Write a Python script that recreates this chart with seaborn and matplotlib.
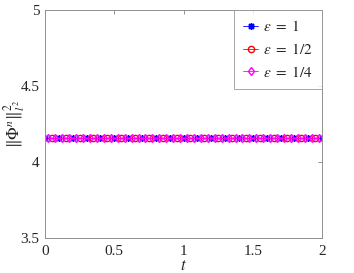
import numpy as np
import pandas as pd
import matplotlib
matplotlib.use("Agg")
import matplotlib.pyplot as plt
import seaborn as sns

# sample times of the three runs (markers) and the l2 norm at each time
t_eps1 = np.round(np.arange(0.0, 2.0001, 0.1), 3)
t_eps2 = np.round(np.arange(0.05, 2.0, 0.1), 3)
t_eps4 = np.round(np.arange(0.025, 2.0, 0.05), 3)
norm_eps1 = [4.16] * len(t_eps1)
norm_eps2 = [4.16] * len(t_eps2)
norm_eps4 = [4.16] * len(t_eps4)

labels = [r"$\varepsilon\ =\ 1$", r"$\varepsilon\ =\ 1/2$", r"$\varepsilon\ =\ 1/4$"]
xticks = [0, 0.5, 1, 1.5, 2]
yticks = [3.5, 4, 4.5, 5]

sns.set_style("white")
plt.rcParams["font.family"] = ["Liberation Serif", "DejaVu Serif"]
plt.rcParams["mathtext.fontset"] = "stix"

fig = plt.figure(figsize=(3.54, 2.73), dpi=100)
ax = fig.add_axes([0.127, 0.128, 0.783, 0.835])

series = [
    (t_eps1, norm_eps1, "#0000ff", (8, 2, 0), 5.0),
    (t_eps2, norm_eps2, "#ff0000", "o", 4.5),
    (t_eps4, norm_eps4, "#ff00ff", "d", 4.5),
]
for (t, v, color, marker, ms), lab in zip(series, labels):
    df = pd.DataFrame({"t": t, "norm": v})
    sns.lineplot(data=df, x="t", y="norm", ax=ax, color=color, marker=marker,
                 markersize=ms, markerfacecolor="none", markeredgecolor=color,
                 markeredgewidth=1.0, linewidth=0.6, label=lab)

ax.set_xlim(0, 2)
ax.set_ylim(3.5, 5)
ax.set_xticks(xticks)
ax.set_xticklabels(["0", "0.5", "1", "1.5", "2"])
ax.set_yticks(yticks)
ax.set_yticklabels(["3.5", "4", "4.5", "5"])
ax.tick_params(direction="in", length=3, width=0.6, color="#808080",
               labelsize=11, top=True, right=True)
ax.tick_params(axis="x", pad=5)
ax.tick_params(axis="y", pad=4)
for sp in ax.spines.values():
    sp.set_color("#909090")
    sp.set_linewidth(0.7)

ax.set_xlabel(r"$t$", fontsize=12)
ax.xaxis.set_label_coords(0.5, -0.088)
ax.set_ylabel(r"$\|\Phi^n\|_{l^2}^2$", fontsize=12)
ax.yaxis.set_label_coords(-0.06, 0.5)

leg = ax.legend(loc="upper right", fontsize=11, frameon=True, fancybox=False,
                borderaxespad=0, handlelength=1.0, handletextpad=0.3,
                borderpad=0.6, labelspacing=0.5)
leg.get_frame().set_edgecolor("#909090")
leg.get_frame().set_linewidth(0.7)

fig.savefig("out.png", dpi=100)
